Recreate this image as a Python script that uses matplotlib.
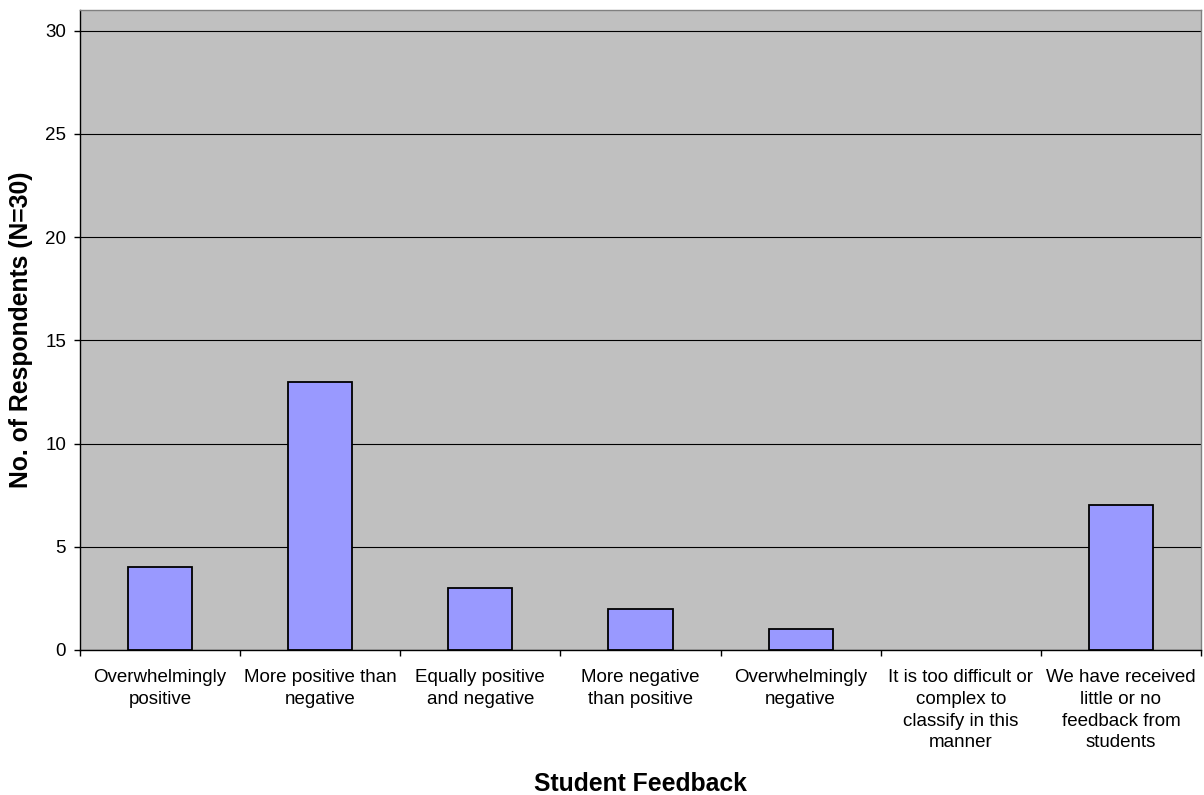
import matplotlib
matplotlib.use("Agg")
import matplotlib.pyplot as plt
import numpy as np

categories = [
    "Overwhelmingly\npositive",
    "More positive than\nnegative",
    "Equally positive\nand negative",
    "More negative\nthan positive",
    "Overwhelmingly\nnegative",
    "It is too difficult or\ncomplex to\nclassify in this\nmanner",
    "We have received\nlittle or no\nfeedback from\nstudents",
]
values = [4, 13, 3, 2, 1, 0, 7]
yticks = [0, 5, 10, 15, 20, 25, 30]

plt.rcParams['font.family'] = ['Liberation Sans', 'DejaVu Sans']

fig = plt.figure(figsize=(12.04, 7.95), dpi=100)
ax = fig.add_axes([80/1204, 145/795, 1121/1204, 640/795])
ax.set_facecolor('#C0C0C0')

x = np.arange(len(categories))
edges = ['black' if v > 0 else 'none' for v in values]
ax.bar(x, values, width=0.4, color='#9999FF', edgecolor=edges, linewidth=1.3, zorder=3)

ax.set_xlim(-0.5, len(categories) - 0.5)
ax.set_ylim(0, 31)
ax.set_yticks(yticks)
ax.set_yticklabels([str(t) for t in yticks], fontsize=13.5)
ax.yaxis.grid(True, color='black', linewidth=0.8, zorder=1)
ax.set_axisbelow(True)

ax.set_xticks(x)
ax.set_xticklabels(categories, fontsize=13.5, linespacing=1.36)
ax.tick_params(axis='x', which='major', length=0, pad=14)
ax.set_xticks(np.arange(-0.5, len(categories)), minor=True)
ax.tick_params(axis='x', which='minor', length=4.5, width=1, direction='out')
ax.tick_params(axis='y', length=4.5, width=1, direction='out', pad=5.5)

for side in ['top', 'right']:
    ax.spines[side].set_color('#808080')
    ax.spines[side].set_linewidth(1)
for side in ['left', 'bottom']:
    ax.spines[side].set_color('black')
    ax.spines[side].set_linewidth(1)

ax.set_ylabel("No. of Respondents (N=30)", fontsize=17.8, fontweight='bold', labelpad=9)
ax.set_xlabel("Student Feedback", fontsize=17.8, fontweight='bold', labelpad=15)

fig.savefig("out.png", dpi=100)
